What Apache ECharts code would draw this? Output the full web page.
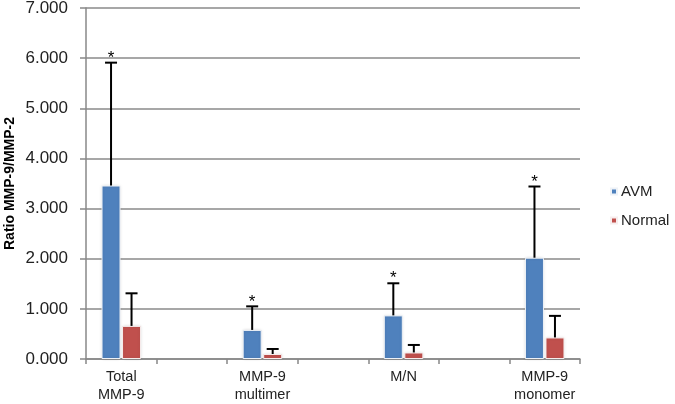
<!DOCTYPE html>
<html>
<head>
<meta charset="utf-8">
<script src="https://cdn.jsdelivr.net/npm/echarts@6/dist/echarts.min.js"></script>
<style>html,body{margin:0;padding:0;background:#fff}#c{width:675px;height:404px}</style>
</head>
<body>
<div id="c"></div>
<script>
const categories = ['Total\nMMP-9', '', 'MMP-9\nmultimer', ' ', 'M/N', '  ', 'MMP-9\nmonomer'];
const avmValues = [3.46, null, 0.58, null, 0.87, null, 2.02];
const avmErrors = [2.45, null, 0.47, null, 0.64, null, 1.42];
const normalValues = [0.66, null, 0.10, null, 0.13, null, 0.43];
const normalErrors = [0.65, null, 0.10, null, 0.15, null, 0.43];
const avmSignificant = [true, false, true, false, true, false, true];
const yTicks = [0, 1, 2, 3, 4, 5, 6, 7];

const BAR_W = 19, GAP = 1.5;

function errData(vals, errs, sig) {
  const out = [];
  vals.forEach((v, i) => { if (v != null) out.push([i, v, v + errs[i], sig ? (sig[i] ? 1 : 0) : 0]); });
  return out;
}

function errRender(offset) {
  return function (params, api) {
    const i = api.value(0);
    const base = api.coord([i, api.value(1)]);
    const top = api.coord([i, api.value(2)]);
    const x = base[0] + offset;
    const children = [
      { type: 'line', shape: { x1: x, y1: base[1], x2: x, y2: top[1] }, style: { stroke: '#000', lineWidth: 2 } },
      { type: 'line', shape: { x1: x - 6, y1: top[1], x2: x + 6, y2: top[1] }, style: { stroke: '#000', lineWidth: 2 } }
    ];
    if (api.value(3) === 1) {
      children.push({ type: 'text', style: { text: '*', x: x, y: top[1] + 4, align: 'center', verticalAlign: 'bottom', fontSize: 17, fontFamily: 'Liberation Sans, Arial', fill: '#000' } });
    }
    return { type: 'group', children: children };
  };
}

const chart = echarts.init(document.getElementById('c'));
chart.setOption({
  animation: false,
  grid: { left: 86, right: 95, top: 8, bottom: 45, containLabel: false, outerBoundsMode: 'none' },
  legend: {
    orient: 'vertical', left: 605, top: 179, itemWidth: 6, itemHeight: 6, itemGap: 14,
    icon: 'rect',
    textStyle: { fontSize: 15, color: '#222', fontFamily: 'Liberation Sans, Arial', padding: [0, 0, 0, -1] },
    data: ['AVM', 'Normal']
  },
  xAxis: {
    type: 'category', data: categories,
    axisLine: { lineStyle: { color: '#888', width: 1.5 } },
    axisTick: { show: true, length: 5, lineStyle: { color: '#888', width: 1.5 } },
    axisLabel: { fontSize: 14.5, color: '#222', fontFamily: 'Liberation Sans, Arial', lineHeight: 18, margin: 9, interval: 0 }
  },
  yAxis: {
    type: 'value', min: yTicks[0], max: yTicks[yTicks.length - 1], interval: 1,
    name: 'Ratio MMP-9/MMP-2', nameLocation: 'middle', nameGap: 69, nameMoveOverlap: false,
    nameTextStyle: { fontSize: 14, fontWeight: 'bold', color: '#000', fontFamily: 'Liberation Sans, Arial' },
    axisLine: { show: true, lineStyle: { color: '#888', width: 1.5 } },
    axisTick: { show: true, length: 6, lineStyle: { color: '#888', width: 1.5 } },
    splitLine: { lineStyle: { color: '#8a8a8a', width: 1.5 } },
    axisLabel: { fontSize: 17, color: '#222', fontFamily: 'Liberation Sans, Arial', margin: 18, formatter: v => v.toFixed(3) }
  },
  series: [
    { name: 'AVM', type: 'bar', data: avmValues, barWidth: BAR_W, barGap: '8%',
      itemStyle: { color: '#4F81BD', borderColor: '#eef2f7', borderWidth: 1, shadowColor: 'rgba(0,0,0,0.12)', shadowBlur: 3 } },
    { name: 'Normal', type: 'bar', data: normalValues, barWidth: BAR_W,
      itemStyle: { color: '#C0504D', borderColor: '#f7eeee', borderWidth: 1, shadowColor: 'rgba(0,0,0,0.12)', shadowBlur: 3 } },
    { name: 'avmErr', type: 'custom', data: errData(avmValues, avmErrors, avmSignificant),
      renderItem: errRender(-(BAR_W + GAP) / 2), encode: { x: 0, y: [1, 2] }, z: 5, silent: true },
    { name: 'normalErr', type: 'custom', data: errData(normalValues, normalErrors, null),
      renderItem: errRender((BAR_W + GAP) / 2), encode: { x: 0, y: [1, 2] }, z: 5, silent: true }
  ]
});
</script>
</body>
</html>
